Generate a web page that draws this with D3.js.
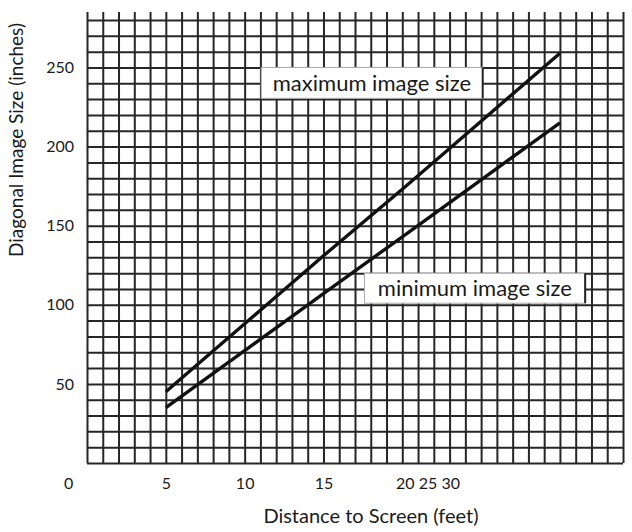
<!DOCTYPE html>
<html>
<head>
<meta charset="utf-8">
<script src="https://cdn.jsdelivr.net/npm/d3@7"></script>
<style>
  body { margin: 0; background: #fff; }
  text { font-family: Lato, "Open Sans", sans-serif; fill: #1a1a1a; }
</style>
</head>
<body>
<div id="chart"></div>
<script>
// data: distance (feet) vs diagonal size (inches)
const distances = [5, 10, 15, 20, 25, 30];
const maxSize = [45, 88, 131, 173, 216, 259];
const minSize = [35, 71, 107, 143, 179, 215];

// tick labels as printed (the x axis labels are oddly placed in the original)
const xTickPos = [-1.2, 5, 10, 15, 21.6];
const xTickLabels = ["0", "5", "10", "15", "20 25 30"];
const yTicks = [50, 100, 150, 200, 250];

// label boxes [x0, x1, yTop, yBottom] in data units
const labels = [
  {text: "maximum image size", x: 11.05, y: 250, x1: 25.1, y1: 230.5},
  {text: "minimum image size", x: 17.6, y: 120, x1: 31.6, y1: 101}
];

const width = 632, height = 532;
const margin = {top: 20, left: 87, right: 9, bottom: 69};

const svg = d3.select("#chart")
  .append("svg")
  .attr("width", width)
  .attr("height", height);

const xScale = d3.scaleLinear()
  .domain([0, 34])
  .range([margin.left, width - margin.right]);

const yScale = d3.scaleLinear()
  .domain([0, 280])
  .range([height - margin.bottom, margin.top]);

const plotH = yScale(0) - yScale(280);

// vertical grid lines (stick out a bit above the top)
svg.append("g")
  .attr("transform", "translate(0," + yScale(0) + ")")
  .call(d3.axisBottom(xScale).tickValues(d3.range(0, 35)).tickSize(-(plotH + 8)).tickFormat(""))
  .call(g => g.select(".domain").remove())
  .call(g => g.selectAll("line").attr("stroke", "#262626").attr("stroke-width", 2));

// horizontal grid lines
svg.append("g")
  .attr("transform", "translate(" + xScale(0) + ",0)")
  .call(d3.axisLeft(yScale).tickValues(d3.range(0, 290, 10)).tickSize(-(xScale(34) - xScale(0))).tickFormat(""))
  .call(g => g.select(".domain").remove())
  .call(g => g.selectAll("line").attr("stroke", "#262626").attr("stroke-width", 2));

// y tick labels
svg.append("g")
  .attr("transform", "translate(" + xScale(0) + ",0)")
  .call(d3.axisLeft(yScale).tickValues(yTicks).tickSize(0).tickPadding(13))
  .call(g => g.select(".domain").remove())
  .call(g => g.selectAll("text").style("font-size", "16px").attr("fill", "#1a1a1a"));

// x tick labels
svg.append("g")
  .attr("transform", "translate(0," + yScale(0) + ")")
  .call(d3.axisBottom(xScale).tickValues(xTickPos).tickSize(0).tickPadding(15)
    .tickFormat((d, i) => xTickLabels[i]))
  .call(g => g.select(".domain").remove())
  .call(g => g.selectAll("text").style("font-size", "16px").attr("fill", "#1a1a1a"));

// the two lines
const line = d3.line()
  .x((d, i) => xScale(distances[i]))
  .y(d => yScale(d));

svg.selectAll(".series")
  .data([maxSize, minSize])
  .enter()
  .append("path")
  .attr("class", "series")
  .attr("fill", "none")
  .attr("stroke", "#111")
  .attr("stroke-width", 3.4)
  .attr("d", d => line(d));

// label boxes
const lab = svg.selectAll(".lab")
  .data(labels)
  .enter()
  .append("g")
  .attr("class", "lab");

lab.append("rect")
  .attr("x", d => xScale(d.x))
  .attr("y", d => yScale(d.y))
  .attr("width", d => xScale(d.x1) - xScale(d.x))
  .attr("height", d => yScale(d.y1) - yScale(d.y))
  .attr("fill", "#fff")
  .attr("stroke", "#aaa")
  .attr("stroke-width", 1);

lab.append("line")
  .attr("x1", d => xScale(d.x1))
  .attr("x2", d => xScale(d.x1))
  .attr("y1", d => yScale(d.y))
  .attr("y2", d => yScale(d.y1))
  .attr("stroke", "#222")
  .attr("stroke-width", 2);

lab.append("text")
  .attr("x", d => (xScale(d.x) + xScale(d.x1)) / 2)
  .attr("y", d => (yScale(d.y) + yScale(d.y1)) / 2)
  .attr("dy", "0.35em")
  .attr("text-anchor", "middle")
  .style("font-size", "22px")
  .text(d => d.text);

// axis titles
svg.append("text")
  .attr("x", 371)
  .attr("y", 523)
  .attr("text-anchor", "middle")
  .style("font-size", "20px")
  .text("Distance to Screen (feet)");

svg.append("text")
  .attr("transform", "translate(23," + 140 + ") rotate(-90)")
  .attr("text-anchor", "middle")
  .style("font-size", "19px")
  .text("Diagonal Image Size (inches)");
</script>
</body>
</html>
